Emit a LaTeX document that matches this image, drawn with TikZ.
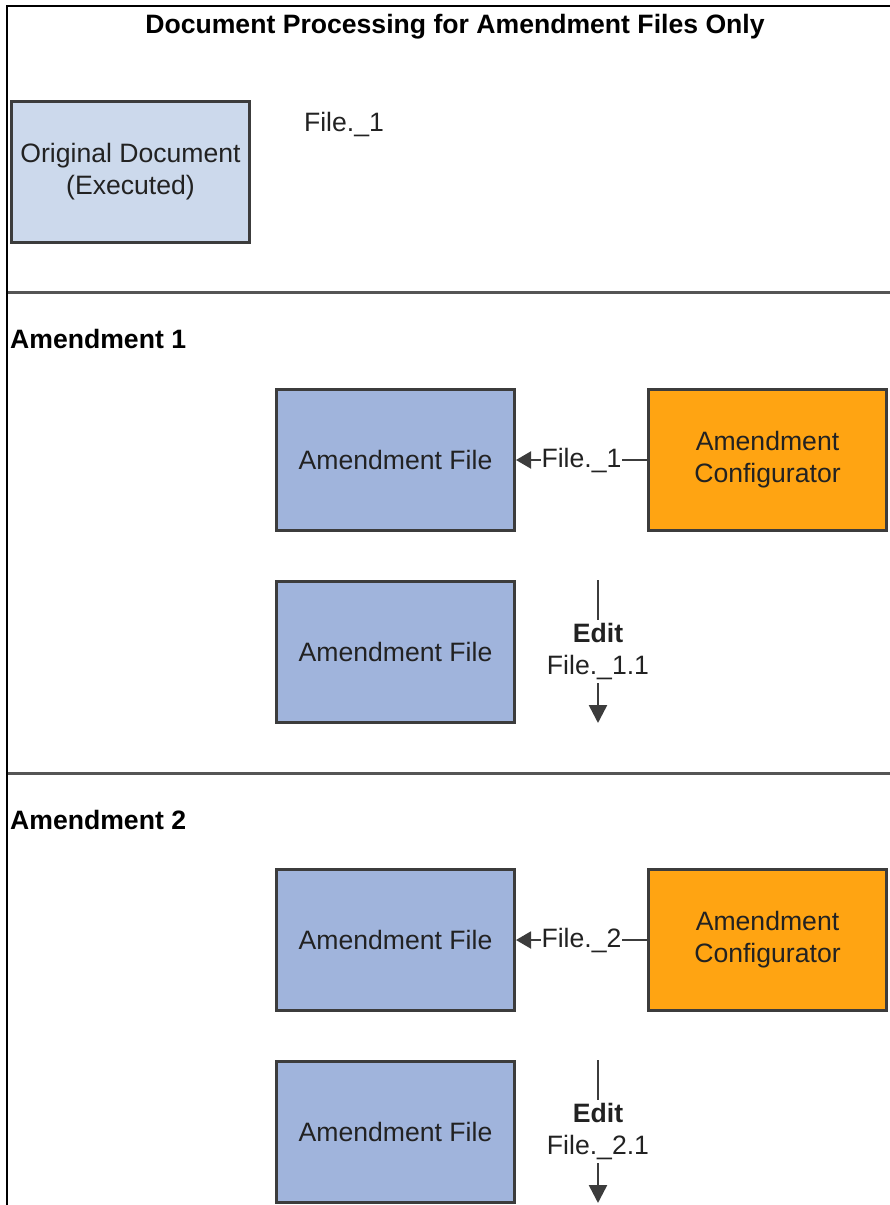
\documentclass[tikz,border=0pt]{standalone}
\usepackage{fontspec}
\setmainfont{Liberation Sans}
\usetikzlibrary{arrows.meta}
\definecolor{origfill}{HTML}{CCD9EC}
\definecolor{amfill}{HTML}{A0B4DC}
\definecolor{cfgfill}{HTML}{FFA412}
\definecolor{boxline}{HTML}{3C3C3C}
\definecolor{ruleline}{HTML}{555555}
\definecolor{txt}{HTML}{222222}
\newcommand{\fs}{\fontsize{26.6}{32}\selectfont}
\tikzset{
  box/.style={draw=boxline, line width=3pt, minimum width=238pt, minimum height=141pt,
    inner sep=0pt, align=center, font=\fs, text=txt},
  origbox/.style={box, fill=origfill},
  ambox/.style={box, fill=amfill},
  cfgbox/.style={box, fill=cfgfill},
  lbl/.style={font=\fs, text=txt, inner sep=1pt},
  hdr/.style={font=\fs\bfseries, text=black, inner sep=0pt},
  hconn/.style={draw=boxline, line width=2pt, -{Triangle[length=15pt,width=17pt]}},
  vconn/.style={draw=boxline, line width=2.5pt, -{Triangle[length=18pt,width=18pt]}},
  rulestyle/.style={draw=ruleline, line width=3pt},
  framestyle/.style={draw=black, line width=2pt}
}
\begin{document}
\begin{tikzpicture}[x=1pt,y=-1pt]
\useasboundingbox (0,0) rectangle (890,1205);
% frame
\coordinate (fa) at (7,1205);
\coordinate (fb) at (7,6);
\coordinate (fc) at (890,6);
\draw[framestyle] (fa) -- (fb) -- (fc);
% title
\node[hdr] (title) at (455,27) {Document Processing for Amendment Files Only};
% original document
\node[origbox] (orig) at (130.5,171.5) {Original Document\\(Executed)};
\node[lbl] (f0) at (344,125) {File.\_1};
% rule 1
\coordinate (r1a) at (8,292);
\coordinate (r1b) at (890,292);
\draw[rulestyle] (r1a) -- (r1b);
\node[hdr, anchor=west] (am1) at (10,339) {Amendment 1};
% amendment 1
\node[ambox] (af1) at (395.5,460) {Amendment File};
\node[cfgbox] (cfg1) at (767.5,460) {Amendment\\Configurator};
\draw[hconn] (cfg1.west) -- node[lbl, fill=white, inner xsep=1pt] (l1) {File.\_1} (af1.east);
\node[ambox] (af2) at (395.5,652) {Amendment File};
\coordinate (e1t) at (598,580);
\coordinate (e1b) at (598,723);
\draw[vconn] (e1t) -- node[lbl, fill=white, align=center, inner ysep=3pt] (l2) {\textbf{Edit}\\File.\_1.1} (e1b);
% rule 2
\coordinate (r2a) at (8,773);
\coordinate (r2b) at (890,773);
\draw[rulestyle] (r2a) -- (r2b);
\node[hdr, anchor=west] (am2) at (10,820) {Amendment 2};
% amendment 2
\node[ambox] (af3) at (395.5,940) {Amendment File};
\node[cfgbox] (cfg2) at (767.5,940) {Amendment\\Configurator};
\draw[hconn] (cfg2.west) -- node[lbl, fill=white, inner xsep=1pt] (l3) {File.\_2} (af3.east);
\node[ambox] (af4) at (395.5,1132) {Amendment File};
\coordinate (e2t) at (598,1060);
\coordinate (e2b) at (598,1203);
\draw[vconn] (e2t) -- node[lbl, fill=white, align=center, inner ysep=3pt] (l4) {\textbf{Edit}\\File.\_2.1} (e2b);
\end{tikzpicture}
\end{document}
